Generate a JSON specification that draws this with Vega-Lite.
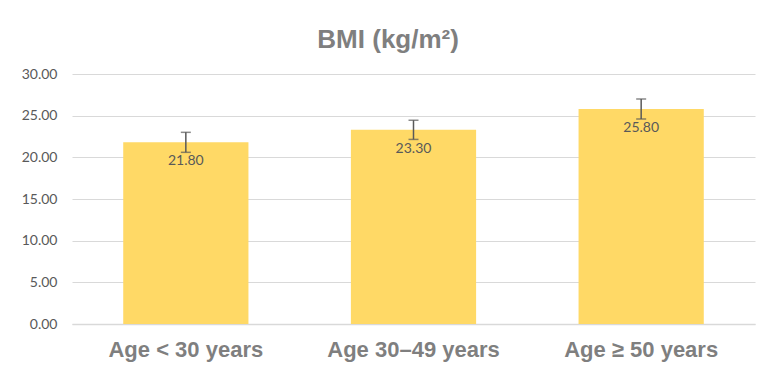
{
  "$schema": "https://vega.github.io/schema/vega-lite/v6.json",
  "autosize": {"type": "none"},
  "width": 683,
  "height": 250,
  "padding": {"left": 72, "top": 74, "right": 24, "bottom": 59},
  "background": "white",
  "title": {
    "text": "BMI (kg/m²)",
    "font": "Liberation Sans",
    "fontSize": 26,
    "fontWeight": "bold",
    "color": "#7f7f7f",
    "anchor": "middle",
    "frame": "bounds",
    "offset": 14
  },
  "data": {
    "values": [
      {"group": "Age < 30 years", "bmi": 21.8, "lo": 20.6, "hi": 23.0},
      {"group": "Age 30–49 years", "bmi": 23.3, "lo": 22.15, "hi": 24.45},
      {"group": "Age ≥ 50 years", "bmi": 25.8, "lo": 24.6, "hi": 27.0}
    ]
  },
  "config": {
    "view": {"stroke": null},
    "axis": {"domain": false, "ticks": false}
  },
  "encoding": {
    "x": {
      "field": "group",
      "type": "nominal",
      "sort": null,
      "scale": {"paddingInner": 0.45, "paddingOuter": 0.225},
      "axis": {
        "title": null,
        "labelAngle": 0,
        "labelFont": "Liberation Sans",
        "labelFontSize": 22,
        "labelFontWeight": "bold",
        "labelColor": "#7f7f7f",
        "labelPadding": 15,
        "domain": true,
        "domainColor": "#d9d9d9",
        "domainWidth": 1.5
      }
    }
  },
  "layer": [
    {
      "mark": {"type": "bar", "color": "#FFD966"},
      "encoding": {
        "y": {
          "field": "bmi",
          "type": "quantitative",
          "scale": {"domain": [0, 30]},
          "axis": {
            "title": null,
            "values": [0, 5, 10, 15, 20, 25, 30],
            "format": ".2f",
            "labelFont": "Lato",
            "labelFontSize": 14,
            "labelColor": "#595959",
            "labelPadding": 15,
            "grid": true,
            "gridColor": "#d9d9d9",
            "gridWidth": 1.2
          }
        }
      }
    },
    {
      "mark": {"type": "rule", "color": "#595959", "strokeWidth": 1.5},
      "encoding": {
        "y": {"field": "lo", "type": "quantitative"},
        "y2": {"field": "hi"}
      }
    },
    {
      "mark": {"type": "tick", "color": "#595959", "size": 10, "thickness": 1.5, "orient": "horizontal"},
      "encoding": {"y": {"field": "lo", "type": "quantitative"}}
    },
    {
      "mark": {"type": "tick", "color": "#595959", "size": 10, "thickness": 1.5, "orient": "horizontal"},
      "encoding": {"y": {"field": "hi", "type": "quantitative"}}
    },
    {
      "mark": {"type": "text", "baseline": "top", "dy": 12, "font": "Lato", "fontSize": 14, "color": "#595959"},
      "encoding": {
        "y": {"field": "bmi", "type": "quantitative"},
        "text": {"field": "bmi", "type": "quantitative", "format": ".2f"}
      }
    }
  ]
}
